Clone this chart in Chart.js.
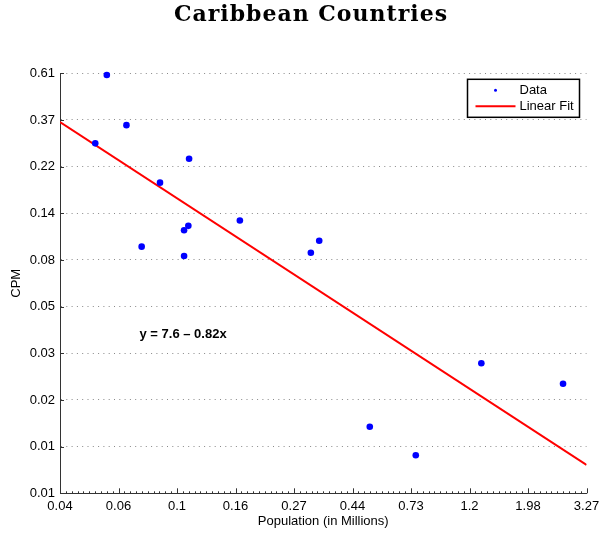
<!DOCTYPE html>
<html lang="en">

<head>
    <meta charset="UTF-8">
    <title>Caribbean Countries</title>
    <script src="https://cdn.jsdelivr.net/npm/chart.js"></script>
    <style>
        html, body {
            margin: 0;
            padding: 0;
            background: #fff;
        }

        #wrap {
            width: 600px;
            height: 535px;
        }
    </style>
</head>

<body>
    <div id="wrap"><canvas id="cpmChart" width="600" height="535"></canvas></div>

    <script>
        // population (millions) and CPM for each country
        const population = [0.0542, 0.0641, 0.0491, 0.1095, 0.0854, 0.169, 0.1088, 0.1049,
            0.0730, 0.1049, 0.333, 0.310, 1.331, 2.676, 0.513, 0.760];
        const cpm = [0.599, 0.350, 0.288, 0.244, 0.189, 0.126, 0.119, 0.1135,
            0.0952, 0.0861, 0.1015, 0.0892, 0.0273, 0.0219, 0.01383, 0.01018];

        // fitted line end points (log-log)
        const fitX = [0.03633, 3.27];
        const fitY = [0.362, 0.00918];

        // tick labels as printed on the axes (bottom/left first)
        const xTickLabels = ['0.04', '0.06', '0.1', '0.16', '0.27', '0.44', '0.73', '1.2', '1.98', '3.27'];
        const yTickLabels = ['0.01', '0.01', '0.02', '0.03', '0.05', '0.08', '0.14', '0.22', '0.37', '0.61'];

        const fitLabel = 'y = 7.6 \u2013 0.82x';
        const fitLabelPos = { x: 0.104, y: 0.037 };

        // axes are spaced by e^0.5 per tick
        const xMax = 3.27, yMax = 0.61;
        const step = Math.exp(0.5);
        const xTickVals = xTickLabels.map((l, i) => xMax / Math.pow(step, xTickLabels.length - 1 - i));
        const yTickVals = yTickLabels.map((l, i) => yMax / Math.pow(step, yTickLabels.length - 1 - i));

        const font = 'Liberation Sans, Arial, sans-serif';
        Chart.defaults.font.family = font;
        Chart.defaults.font.size = 13;
        Chart.defaults.color = '#000';

        // title, inward ticks, legend box and fit label
        const decorations = {
            id: 'decorations',
            afterDraw(chart) {
                const ctx = chart.ctx;
                const xs = chart.scales.x, ys = chart.scales.y;
                const area = chart.chartArea;
                ctx.save();

                // title
                ctx.fillStyle = '#000';
                ctx.font = 'bold 22px "DejaVu Serif"';
                ctx.letterSpacing = '1px';
                ctx.textAlign = 'center';
                ctx.textBaseline = 'alphabetic';
                ctx.fillText('Caribbean Countries', 311, 21);
                ctx.letterSpacing = '0px';

                // inward ticks
                ctx.strokeStyle = '#333';
                ctx.lineWidth = 1;
                ctx.beginPath();
                xTickVals.forEach((v, i) => {
                    const px = Math.round(xs.getPixelForValue(v)) + 0.5;
                    ctx.moveTo(px, area.bottom);
                    ctx.lineTo(px, area.bottom - 5);
                    if (i < xTickVals.length - 1) {
                        for (let k = 1; k < 10; k++) {
                            const mx = Math.round(xs.getPixelForValue(v * Math.pow(step, k / 10))) + 0.5;
                            ctx.moveTo(mx, area.bottom);
                            ctx.lineTo(mx, area.bottom - 2);
                        }
                    }
                });
                yTickVals.forEach(v => {
                    const py = Math.round(ys.getPixelForValue(v)) + 0.5;
                    ctx.moveTo(area.left, py);
                    ctx.lineTo(area.left + 4, py);
                });
                ctx.stroke();

                // fit equation
                ctx.font = 'bold 13px ' + font;
                ctx.fillStyle = '#000';
                ctx.textBaseline = 'middle';
                ctx.fillText(fitLabel, xs.getPixelForValue(fitLabelPos.x), ys.getPixelForValue(fitLabelPos.y));

                // legend
                const bw = 112, bh = 38;
                const bx = area.right - 7 - bw, by = area.top + 6;
                ctx.fillStyle = '#fff';
                ctx.fillRect(bx, by, bw, bh);
                ctx.strokeStyle = '#000';
                ctx.lineWidth = 1.5;
                ctx.strokeRect(bx, by, bw, bh);
                ctx.font = '13px ' + font;
                ctx.textAlign = 'left';
                chart.data.datasets.forEach((ds, i) => {
                    const cy = by + 11 + i * 16;
                    if (ds.showLine) {
                        ctx.strokeStyle = ds.borderColor;
                        ctx.lineWidth = 2;
                        ctx.beginPath();
                        ctx.moveTo(bx + 8, cy);
                        ctx.lineTo(bx + 48, cy);
                        ctx.stroke();
                    } else {
                        ctx.fillStyle = ds.backgroundColor;
                        ctx.beginPath();
                        ctx.arc(bx + 28, cy, 1.5, 0, Math.PI * 2);
                        ctx.fill();
                    }
                    ctx.fillStyle = '#000';
                    ctx.fillText(ds.label, bx + 52, cy);
                });
                ctx.restore();
            }
        };

        const ctx = document.getElementById('cpmChart').getContext('2d');
        new Chart(ctx, {
            type: 'scatter',
            data: {
                datasets: [{
                    label: 'Data',
                    data: population.map((p, i) => ({ x: p, y: cpm[i] })),
                    backgroundColor: '#0000ff',
                    borderColor: '#0000ff',
                    pointRadius: 3.3,
                    borderWidth: 0,
                    showLine: false,
                    clip: false
                }, {
                    label: 'Linear Fit',
                    data: fitX.map((x, i) => ({ x: x, y: fitY[i] })),
                    borderColor: '#ff0000',
                    backgroundColor: '#ff0000',
                    borderWidth: 2,
                    pointRadius: 0,
                    showLine: true
                }]
            },
            options: {
                responsive: false,
                animation: false,
                layout: {
                    padding: { top: 73.3, right: 13.5, left: 0, bottom: 0 }
                },
                plugins: {
                    legend: { display: false },
                    tooltip: { enabled: false }
                },
                scales: {
                    x: {
                        type: 'logarithmic',
                        min: xTickVals[0],
                        max: xMax,
                        afterBuildTicks: s => { s.ticks = xTickVals.map(v => ({ value: v })); },
                        afterFit: s => { s.height = 41.7; },
                        ticks: {
                            autoSkip: false,
                            maxRotation: 0,
                            padding: 0,
                            callback: (v, i) => xTickLabels[i]
                        },
                        grid: {
                            display: true,
                            drawOnChartArea: false,
                            drawTicks: true,
                            tickLength: 5,
                            color: 'rgba(0,0,0,0)'
                        },
                        border: { display: true, color: '#333', width: 1 },
                        title: {
                            display: true,
                            text: 'Population (in Millions)',
                            padding: { top: 0, bottom: 5.7 }
                        }
                    },
                    y: {
                        type: 'logarithmic',
                        min: yTickVals[0],
                        max: yMax,
                        afterBuildTicks: s => { s.ticks = yTickVals.map(v => ({ value: v })); },
                        afterFit: s => { s.width = 60; },
                        ticks: {
                            autoSkip: false,
                            padding: 5,
                            callback: (v, i) => yTickLabels[i]
                        },
                        grid: { color: '#888', lineWidth: 1, drawTicks: false },
                        border: { display: true, color: '#333', width: 1, dash: [1, 4.3] },
                        title: {
                            display: true,
                            text: 'CPM',
                            padding: { top: 8.2, bottom: 0 }
                        }
                    }
                }
            },
            plugins: [decorations]
        });
    </script>
</body>

</html>
